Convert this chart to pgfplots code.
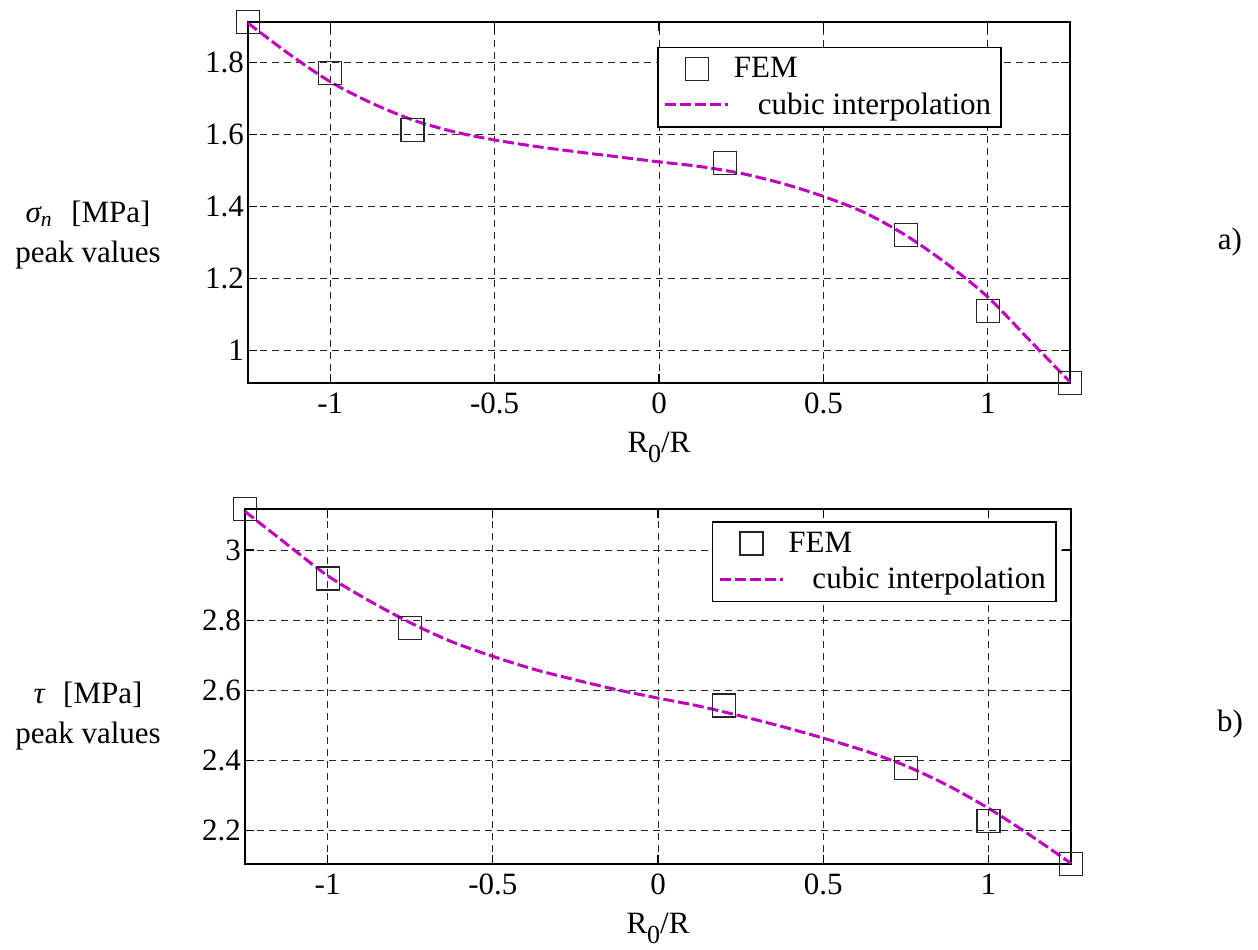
\documentclass[border=0pt]{standalone}
\usepackage{fontspec}
\setmainfont{Liberation Serif}
\usepackage{pgfplots}
\pgfplotsset{compat=1.18}
\definecolor{mag}{rgb}{0.75,0,0.75}
\newcommand{\cf}{\fontsize{15.5}{20}\selectfont}

\pgfplotsset{
  myax/.style={
    scale only axis,
    anchor=north west,
    xmin=-1.25, xmax=1.25,
    xtick={-1,-0.5,0,0.5,1},
    tick align=inside,
    xtick pos=both, ytick pos=both,
    major tick length=4.5pt,
    tick style={black, line width=0.6pt},
    grid=major,
    major grid style={black!85, line width=0.5pt, dash pattern=on 3.5pt off 2.5pt},
    axis line style={line width=0.9pt},
    /pgf/number format/assume math mode=true,
    tick label style={font=\cf},
    xticklabel style={yshift=-1.5pt},
    yticklabel style={xshift=1.5pt},
    label style={font=\cf},
    xlabel={R\raisebox{-0.35em}{\fontsize{13}{13}\selectfont 0}/R},
    xlabel style={at={(axis description cs:0.5,0)}, anchor=base, yshift=-34.5pt},
    clip=false,
    legend cell align=left,
    legend style={font=\cf, draw=black, line width=0.8pt, inner xsep=3pt, inner ysep=2pt, row sep=0pt, nodes={inner ysep=3pt}},
  },
  fem/.style={black!85, only marks, mark=square, mark size=5.75pt, mark options={line width=0.6pt, fill=none, solid},
    legend image code/.code={\path (0pt,0pt) (31.5pt,0pt); \draw[##1] plot coordinates {(15.75pt,0pt)};}},
  cub/.style={mag, line width=1.5pt, dash pattern=on 5.5pt off 2pt, no marks, smooth,
    legend image code/.code={\draw[##1] (0pt,0pt) -- (31.5pt,0pt);}},
}

\begin{document}
\begin{tikzpicture}
\path[use as bounding box] (0,0) rectangle (629pt,-474.5pt);

\begin{axis}[myax, at={(124pt,-11pt)}, width=411pt, height=180.5pt,
  ymin=0.909, ymax=1.913, ytick={1,1.2,1.4,1.6,1.8},
  legend style={at={(0.4976,0.932)}, anchor=north west}]
\addplot[fem] coordinates {
(-1.25,1.913) (-1,1.771) (-0.75,1.612) (0.2,1.520) (0.75,1.320) (1,1.109) (1.25,0.909)};
\addlegendentry{FEM}
\addplot[cub] coordinates {
(-1.25,1.910) (-1.125,1.824) (-1,1.747) (-0.875,1.688) (-0.75,1.641) (-0.625,1.608)
(-0.5,1.585) (-0.375,1.567) (-0.25,1.552) (-0.125,1.538) (0,1.524) (0.125,1.511)
(0.25,1.492) (0.375,1.464) (0.5,1.428) (0.625,1.383) (0.75,1.320) (0.875,1.241)
(1,1.148) (1.125,1.030) (1.25,0.912)};
\addlegendentry{\hspace*{12pt}cubic interpolation}
\end{axis}

\begin{axis}[myax, at={(122.5pt,-254.5pt)}, width=413pt, height=177.5pt,
  ymin=2.105, ymax=3.117, ytick={2.2,2.4,2.6,2.8,3},
  legend style={at={(0.565,0.966)}, anchor=north west}]
\addplot[fem] coordinates {
(-1.25,3.117) (-1,2.919) (-0.75,2.778) (0.2,2.557) (0.75,2.379) (1,2.228) (1.25,2.106)};
\addlegendentry{FEM}
\addplot[cub] coordinates {
(-1.25,3.110) (-1.125,3.018) (-1,2.927) (-0.875,2.856) (-0.75,2.793) (-0.625,2.739)
(-0.5,2.697) (-0.375,2.660) (-0.25,2.630) (-0.125,2.602) (0,2.578) (0.125,2.555)
(0.25,2.527) (0.375,2.497) (0.5,2.464) (0.625,2.428) (0.75,2.385) (0.875,2.330)
(1,2.264) (1.125,2.188) (1.25,2.107)};
\addlegendentry{\hspace*{12pt}cubic interpolation}
\end{axis}

\node[align=center, font=\cf] at (44pt,-117.5pt) {{\itshape σ}\textsubscript{\itshape n}\hspace{0.6em}[MPa]\\peak values};
\node[align=center, font=\cf] at (44pt,-358pt) {{\itshape τ}\hspace{0.6em}[MPa]\\peak values};
\node[font=\cf] at (615pt,-121pt) {a)};
\node[font=\cf] at (615pt,-362pt) {b)};
\end{tikzpicture}
\end{document}
